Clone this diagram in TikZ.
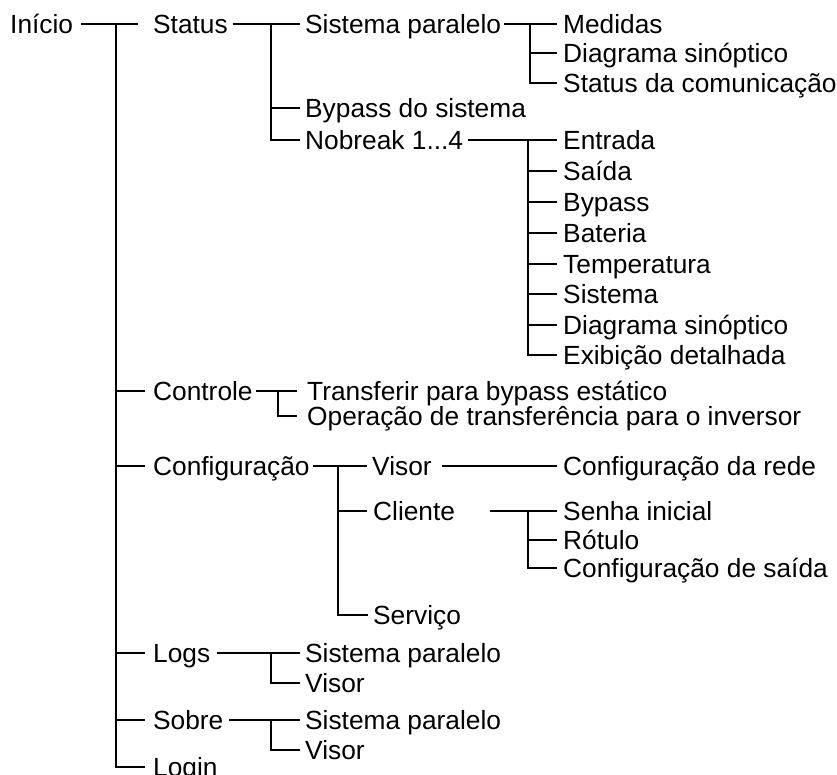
\documentclass[tikz,border=0pt]{standalone}
\usepackage{fontspec}
\setmainfont{Liberation Sans}
\usetikzlibrary{calc}
\tikzset{
  item/.style={anchor=west,inner sep=0pt,text height=18.6pt,text depth=0pt,
    font=\fontsize{26.3pt}{30pt}\selectfont},
  link/.style={draw=black,line width=1.8pt},
}

\begin{document}
\begin{tikzpicture}[x=1pt,y=-1pt]
\useasboundingbox (0,0) rectangle (837,774);
\node[item] (inicio) at (10,24) {Início};
\node[item] (status) at (153,24) {Status};
\node[item] (stpar) at (305,24) {Sistema paralelo};
\node[item] (medidas) at (563,24) {Medidas};
\node[item] (stdiag) at (563,53) {Diagrama sinóptico};
\node[item] (stcom) at (563,83) {Status da comunicação};
\node[item] (bypsys) at (305,108) {Bypass do sistema};
\node[item] (nobreak) at (305,140) {Nobreak 1...4};
\node[item] (entrada) at (563,140) {Entrada};
\node[item] (saida) at (563,171) {Saída};
\node[item] (bypass) at (563,202) {Bypass};
\node[item] (bateria) at (563,233) {Bateria};
\node[item] (temp) at (563,264) {Temperatura};
\node[item] (sistema) at (563,294) {Sistema};
\node[item] (nbdiag) at (563,325) {Diagrama sinóptico};
\node[item] (exib) at (563,355) {Exibição detalhada};
\node[item] (controle) at (153,391) {Controle};
\node[item] (transf) at (307,391) {Transferir para bypass estático};
\node[item] (operacao) at (307,416) {Operação de transferência para o inversor};
\node[item] (config) at (153,466) {Configuração};
\node[item] (cfvisor) at (372,466) {Visor};
\node[item] (rede) at (563,466) {Configuração da rede};
\node[item] (cliente) at (373,511) {Cliente};
\node[item] (senha) at (563,511) {Senha inicial};
\node[item] (rotulo) at (563,540) {Rótulo};
\node[item] (cfsaida) at (563,568) {Configuração de saída};
\node[item] (servico) at (373,615) {Serviço};
\node[item] (logs) at (153,653) {Logs};
\node[item] (lgpar) at (305,653) {Sistema paralelo};
\node[item] (lgvisor) at (305,683) {Visor};
\node[item] (sobre) at (153,720) {Sobre};
\node[item] (sbpar) at (305,720) {Sistema paralelo};
\node[item] (sbvisor) at (305,750) {Visor};
\node[item] (login) at (153,767) {Login};
\coordinate (t0) at (116,24);
\coordinate (t1) at (271,24);
\coordinate (t2) at (530,24);
\coordinate (t3) at (528,140);
\coordinate (t4) at (278,391);
\coordinate (t5) at (338,466);
\coordinate (t6) at (528,511);
\coordinate (t7) at (271,653);
\coordinate (t8) at (271,720);
\draw[link] ([xshift=8pt]inicio.east) -- ([xshift=-15pt]status.west);
\draw[link] (t0) |- ([xshift=-8pt]login.west);
\foreach \n in {controle,config,logs,sobre}
  \draw[link] (t0 |- \n.west) -- ([xshift=-8pt]\n.west);
\draw[link] ([xshift=5pt]status.east) -- ([xshift=-5pt]stpar.west);
\draw[link] (t1) |- ([xshift=-5pt]nobreak.west);
\draw[link] (t1 |- bypsys.west) -- ([xshift=-5pt]bypsys.west);
\draw[link] ([xshift=3pt]stpar.east) -- ([xshift=-6pt]medidas.west);
\draw[link] (t2) |- ([xshift=-6pt]stcom.west);
\draw[link] (t2 |- stdiag.west) -- ([xshift=-6pt]stdiag.west);
\draw[link] ([xshift=5pt]nobreak.east) -- ([xshift=-6pt]entrada.west);
\draw[link] (t3) |- ([xshift=-6pt]exib.west);
\foreach \n in {saida,bypass,bateria,temp,sistema,nbdiag}
  \draw[link] (t3 |- \n.west) -- ([xshift=-6pt]\n.west);
\draw[link] ([xshift=3pt]controle.east) -- ([xshift=-10pt]transf.west);
\draw[link] (t4) |- ([xshift=-10pt]operacao.west);
\draw[link] ([xshift=3pt]config.east) -- ([xshift=-5pt]cfvisor.west);
\draw[link] (t5) |- ([xshift=-5pt]servico.west);
\draw[link] (t5 |- cliente.west) -- ([xshift=-6pt]cliente.west);
\draw[link] ([xshift=10pt]cfvisor.east) -- ([xshift=-6pt]rede.west);
\draw[link] ([xshift=35pt]cliente.east) -- ([xshift=-6pt]senha.west);
\draw[link] (t6) |- ([xshift=-6pt]cfsaida.west);
\draw[link] (t6 |- rotulo.west) -- ([xshift=-6pt]rotulo.west);
\draw[link] ([xshift=7pt]logs.east) -- ([xshift=-5pt]lgpar.west);
\draw[link] (t7) |- ([xshift=-5pt]lgvisor.west);
\draw[link] ([xshift=5pt]sobre.east) -- ([xshift=-5pt]sbpar.west);
\draw[link] (t8) |- ([xshift=-5pt]sbvisor.west);
\end{tikzpicture}
\end{document}
